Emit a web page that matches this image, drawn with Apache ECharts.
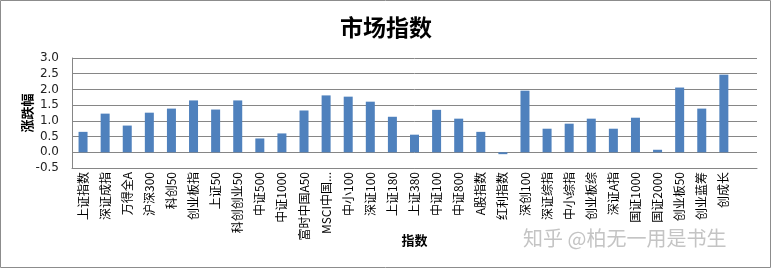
<!DOCTYPE html>
<html>
<head>
<meta charset="utf-8">
<script src="https://cdn.jsdelivr.net/npm/echarts@6/dist/echarts.min.js"></script>
<style>
  html, body { margin: 0; padding: 0; background: #fff; }
  #main { width: 772px; height: 269px; }
</style>
</head>
<body>
<div id="main"></div>
<script>
// 指数名称（最后一个空位是原图右侧留白）
var categories = ['上证指数', '深证成指', '万得全A', '沪深300', '科创50', '创业板指', '上证50', '科创创业50',
    '中证500', '中证1000', '富时中国A50', 'MSCI中国...', '中小100', '深证100', '上证180', '上证380',
    '中证100', '中证800', 'A股指数', '红利指数', '深创100', '深证综指', '中小综指', '创业板综',
    '深证A指', '国证1000', '国证2000', '创业板50', '创业蓝筹', '创成长', ''];
// 涨跌幅（%）
var changes = [0.65, 1.23, 0.85, 1.26, 1.39, 1.65, 1.36, 1.65,
    0.44, 0.60, 1.33, 1.81, 1.77, 1.61, 1.13, 0.56,
    1.35, 1.07, 0.65, -0.06, 1.96, 0.75, 0.91, 1.07,
    0.75, 1.10, 0.08, 2.06, 1.39, 2.47];
// y轴刻度
var yMin = -0.5, yMax = 3.0, yStep = 0.5;

var myChart = echarts.init(document.getElementById('main'));

option = {
    animation: false,
    title: {
        text: '市场指数',
        left: 'center',
        top: 11,
        textStyle: { fontFamily: 'Noto Sans CJK SC', fontSize: 23, fontWeight: 'bold', color: '#000' }
    },
    grid: { left: 72, right: 15, top: 58, bottom: 101 },
    graphic: [
        {
            type: 'rect',
            shape: { x: 0.5, y: 0.5, width: 770, height: 267 },
            style: { fill: 'none', stroke: '#8c8c8c', lineWidth: 1 }
        },
        {
            type: 'text',
            left: 523, top: 228,
            style: { text: '知乎 @柏无一用是书生', fill: '#c4c4c4', font: '20px "Noto Sans CJK SC"' }
        }
    ],
    xAxis: {
        type: 'category',
        data: categories,
        name: '指数',
        nameLocation: 'middle',
        nameGap: 66,
        nameMoveOverlap: false,
        nameTextStyle: { fontFamily: 'Noto Sans CJK SC', fontSize: 13, fontWeight: 'bold', color: '#000' },
        axisLine: { onZero: false, lineStyle: { color: '#868686' } },
        axisTick: { show: false },
        axisLabel: {
            interval: 0,
            rotate: 90,
            margin: 4,
            fontFamily: 'Noto Sans CJK SC',
            fontSize: 12,
            color: '#000'
        }
    },
    yAxis: {
        type: 'value',
        min: yMin,
        max: yMax,
        interval: yStep,
        name: '涨跌幅',
        nameLocation: 'middle',
        nameRotate: 90,
        nameGap: 38,
        nameMoveOverlap: false,
        nameTextStyle: { fontFamily: 'Noto Sans CJK SC', fontSize: 13, fontWeight: 'bold', color: '#000' },
        axisLine: { show: true, lineStyle: { color: '#868686' } },
        axisTick: { show: false },
        axisLabel: {
            margin: 13,
            fontFamily: 'DejaVu Sans',
            fontSize: 12,
            color: '#222',
            formatter: function (v) { return v.toFixed(1); }
        },
        splitLine: { lineStyle: { color: '#868686', width: 1 } }
    },
    series: [{
        type: 'bar',
        data: changes,
        barWidth: 9,
        itemStyle: { color: '#4F81BD' }
    }]
};

myChart.setOption(option);
</script>
</body>
</html>
